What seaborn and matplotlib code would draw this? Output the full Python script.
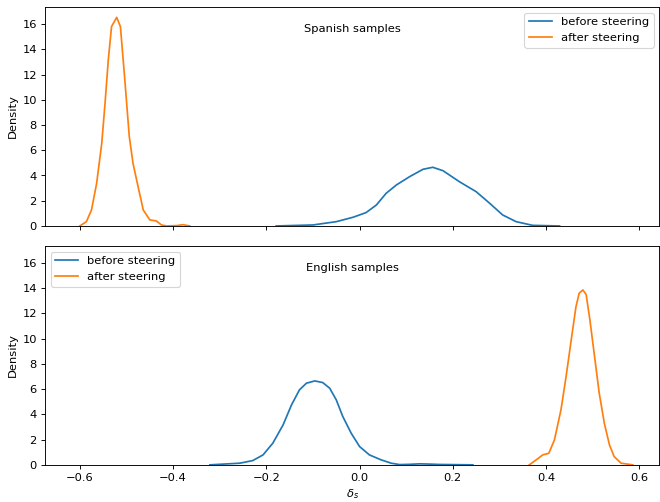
import matplotlib
matplotlib.use("Agg")
import matplotlib.pyplot as plt
import seaborn as sns
import pandas as pd

# densites (x = delta_s, y = densite)
es_before_x = [-0.179, -0.1, -0.05, -0.014, 0.014, 0.036, 0.057, 0.079, 0.107, 0.136, 0.157,
               0.179, 0.214, 0.25, 0.279, 0.307, 0.336, 0.371, 0.429]
es_before_y = [0.0, 0.08, 0.34, 0.69, 1.06, 1.66, 2.59, 3.25, 3.9, 4.49, 4.65,
               4.38, 3.51, 2.72, 1.8, 0.87, 0.34, 0.05, 0.0]
es_after_x = [-0.6, -0.586, -0.575, -0.564, -0.553, -0.546, -0.539, -0.532, -0.521, -0.513, -0.504,
              -0.494, -0.486, -0.475, -0.464, -0.45, -0.436, -0.425, -0.414, -0.392, -0.379, -0.364]
es_after_y = [0.0, 0.34, 1.27, 3.38, 6.55, 9.7, 13.15, 15.8, 16.53, 15.8, 11.8,
              7.1, 4.97, 3.1, 1.27, 0.48, 0.4, 0.08, 0.0, 0.03, 0.1, 0.0]

en_before_x = [-0.321, -0.257, -0.229, -0.207, -0.186, -0.164, -0.146, -0.129, -0.114, -0.096, -0.079,
               -0.064, -0.05, -0.036, -0.018, 0.0, 0.021, 0.046, 0.068, 0.086, 0.107, 0.129, 0.15,
               0.171, 0.243]
en_before_y = [0.0, 0.13, 0.34, 0.79, 1.72, 3.17, 4.75, 5.94, 6.47, 6.65, 6.52,
               6.07, 5.15, 3.83, 2.51, 1.45, 0.79, 0.4, 0.13, 0.02, 0.04, 0.08, 0.06,
               0.03, 0.0]
en_after_x = [0.364, 0.379, 0.393, 0.406, 0.418, 0.432, 0.443, 0.454, 0.464, 0.471, 0.479, 0.486,
              0.494, 0.504, 0.514, 0.525, 0.536, 0.546, 0.561, 0.586]
en_after_y = [0.0, 0.4, 0.79, 0.92, 1.98, 4.36, 7.0, 9.9, 12.5, 13.6, 13.86, 13.5,
              11.5, 8.6, 5.7, 3.3, 1.58, 0.66, 0.13, 0.0]

panels = [
    ("Spanish samples", es_before_x, es_before_y, es_after_x, es_after_y, "upper right"),
    ("English samples", en_before_x, en_before_y, en_after_x, en_after_y, "upper left"),
]

fig, axes = plt.subplots(2, 1, figsize=(8.0, 6.085), dpi=82.5, sharex=True, sharey=True)
fig.subplots_adjust(left=0.068, right=0.999, top=0.986, bottom=0.074, hspace=0.091)

for ax, (titre, bx, by, axx, ay, loc) in zip(axes, panels):
    dfB = pd.DataFrame({'x': bx, 'density': by})
    dfA = pd.DataFrame({'x': axx, 'density': ay})
    sns.lineplot(x='x', y='density', data=dfB, ax=ax, color='tab:blue', label='before steering')
    sns.lineplot(x='x', y='density', data=dfA, ax=ax, color='tab:orange', label='after steering')
    ax.text(0.5, 0.9, titre, transform=ax.transAxes, ha='center', va='center')
    ax.legend(loc=loc)
    ax.set_ylabel("Density")
    ax.set_xlabel("")

axes[0].set_xlim(-0.675, 0.643)
axes[0].set_ylim(0, 17.35)
axes[0].set_yticks(range(0, 17, 2))
axes[1].set_xlabel(r"$\delta_s$")

fig.savefig("out.png", dpi=82.5)
